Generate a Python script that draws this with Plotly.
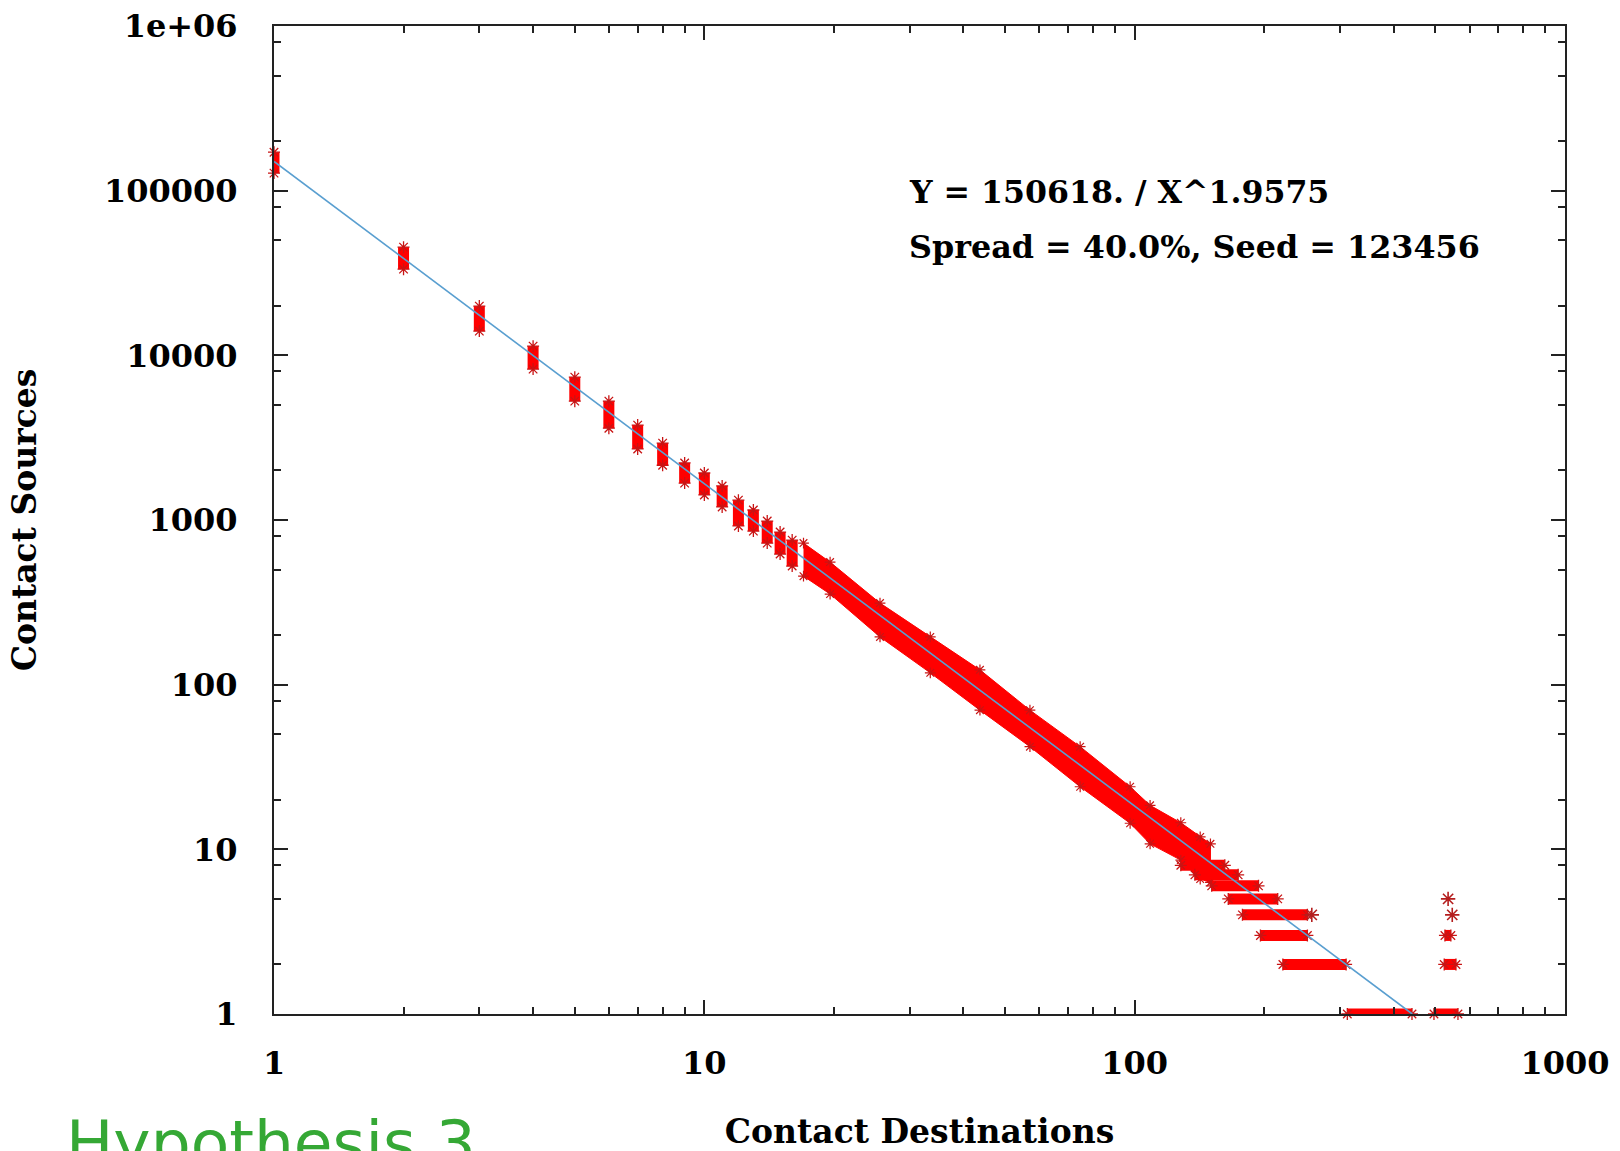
import plotly.graph_objects as go

# Fitted power law quoted in the plot label: Y = A / X^B
fit_a = 150618.0
fit_b = 1.9575

# Low-degree columns: one vertical stack of samples per destination count
col_x = [1, 2, 3, 4, 5, 6, 7, 8, 9, 10, 11, 12, 13, 14, 15, 16]
col_lo = [127800, 33380, 14030, 8250, 5270, 3610, 2700, 2150, 1675, 1420,
          1200, 920, 856, 724, 621, 525]
col_hi = [171300, 45400, 19900, 11370, 7370, 5270, 3770, 2930, 2220, 1930,
          1610, 1320, 1150, 985, 845, 755]

# Mid-range: columns merge into one continuous band (upper / lower envelope)
band_x = [17, 19.6, 25.6, 33.5, 43.7, 57.1, 74.7, 97.6, 108.6, 128, 142, 150]
band_hi = [724, 555, 313, 195, 123, 70, 42, 24, 18.5, 14.5, 11.9, 10.8]
band_lo = [456, 355, 195, 118, 70, 42, 24, 14.4, 10.8, 8.6, 6.6, 6.3]

# Tail: small integer source counts spread over a range of destinations
bar_y = [8, 7, 6, 5, 4, 3, 2, 1, 1, 2, 3]
bar_x0 = [128, 138, 151, 165, 178, 196, 221, 312, 496, 524, 526]
bar_x1 = [162, 174, 194, 215, 252, 252, 310, 441, 564, 558, 543]

# Isolated single samples
dot_x = [535, 547, 258]
dot_y = [5, 4, 4]

RED = "#ff0000"
STAR = "#c81414"
FIT = "#5a9fd0"


def star(size=10, width=1.3, color=STAR):
    return dict(symbol="asterisk-open", size=size, color=color,
                line=dict(color=color, width=width))


fig = go.Figure()

# continuous band
fig.add_trace(go.Scatter(
    x=band_x + band_x[::-1],
    y=band_hi + band_lo[::-1],
    mode="lines", fill="toself", fillcolor=RED,
    line=dict(color=RED, width=1), hoverinfo="skip",
))
fig.add_trace(go.Scatter(
    x=band_x + band_x, y=band_hi + band_lo, mode="markers",
    marker=star(size=9, width=1.2), cliponaxis=False, hoverinfo="skip",
))

# vertical columns (drawn as thick error bars from low to high)
fig.add_trace(go.Scatter(
    x=col_x, y=col_lo, mode="markers", marker=star(),
    error_y=dict(type="data", symmetric=False,
                 array=[h - l for h, l in zip(col_hi, col_lo)],
                 arrayminus=[0] * len(col_lo),
                 color=RED, thickness=11, width=0),
    cliponaxis=False, hoverinfo="skip",
))
fig.add_trace(go.Scatter(
    x=col_x, y=col_hi, mode="markers", marker=star(),
    cliponaxis=False, hoverinfo="skip",
))

# horizontal tail bars
fig.add_trace(go.Scatter(
    x=bar_x0, y=bar_y, mode="markers", marker=star(),
    error_x=dict(type="data", symmetric=False,
                 array=[b - a for a, b in zip(bar_x0, bar_x1)],
                 arrayminus=[0] * len(bar_x0),
                 color=RED, thickness=11, width=0),
    cliponaxis=False, hoverinfo="skip",
))
fig.add_trace(go.Scatter(
    x=bar_x1, y=bar_y, mode="markers", marker=star(),
    cliponaxis=False, hoverinfo="skip",
))
fig.add_trace(go.Scatter(
    x=dot_x, y=dot_y, mode="markers",
    marker=star(size=12, width=1.6, color="#b41e1e"),
    cliponaxis=False, hoverinfo="skip",
))

# fitted power law, straight in log-log, from X=1 down to Y=1
fit_x = [1.0, fit_a ** (1.0 / fit_b)]
fit_y = [fit_a / x ** fit_b for x in fit_x]
fig.add_trace(go.Scatter(
    x=fit_x, y=fit_y, mode="lines",
    line=dict(color=FIT, width=1.6), hoverinfo="skip",
))

serif = dict(family="DejaVu Serif", color="black", weight="bold")

x_major = [1, 10, 100, 1000]
x_minor = [m * d for d in (1, 10, 100) for m in range(2, 10)]
y_major = [1, 10, 100, 1000, 10000, 100000, 1000000]
y_labels = ["1", "10", "100", "1000", "10000", "100000", "1e+06"]
y_minor = [m * d for d in (1, 10, 100, 1000, 10000, 100000) for m in (2, 5, 8)]

axis_common = dict(
    type="log", showgrid=False, zeroline=False, automargin=False,
    showline=True, linecolor="#222222", linewidth=2, mirror="allticks",
    ticks="inside", ticklen=14, tickwidth=1.5, tickcolor="#222222",
)

fig.update_layout(
    width=1620, height=1151,
    margin=dict(l=274, r=55, t=26, b=137),
    paper_bgcolor="white", plot_bgcolor="white",
    showlegend=False,
    xaxis=dict(
        **axis_common, range=[0, 3],
        tickvals=x_major, ticktext=[str(v) for v in x_major],
        tickfont=dict(**serif, size=32), ticklabelstandoff=20,
        minor=dict(tickvals=x_minor, ticks="inside", ticklen=7,
                   tickwidth=1.5, tickcolor="#222222", showgrid=False),
        title=dict(text="Contact Destinations",
                   font=dict(**serif, size=33), standoff=38),
    ),
    yaxis=dict(
        **axis_common, range=[0, 6],
        tickvals=y_major, ticktext=y_labels,
        tickfont=dict(**serif, size=32), ticklabelstandoff=28,
        minor=dict(tickvals=y_minor, ticks="inside", ticklen=7,
                   tickwidth=1.5, tickcolor="#222222", showgrid=False),
        title=dict(text="Contact Sources",
                   font=dict(**serif, size=33), standoff=57),
    ),
    annotations=[
        dict(text="Y = 150618. / X^1.9575", xref="paper", yref="paper",
             x=0.4903, y=0.8325, xanchor="left", yanchor="middle",
             showarrow=False, font=dict(**serif, size=31.6)),
        dict(text="Spread = 40.0%, Seed = 123456", xref="paper", yref="paper",
             x=0.4903, y=0.777, xanchor="left", yanchor="middle",
             showarrow=False, font=dict(**serif, size=31.8)),
        dict(text="Hypothesis 3", xref="paper", yref="paper",
             x=-0.1627, y=-0.092, xanchor="left", yanchor="top",
             showarrow=False,
             font=dict(family="DejaVu Sans", size=63, color="#35a835")),
    ],
)

fig.write_html("out.html")
